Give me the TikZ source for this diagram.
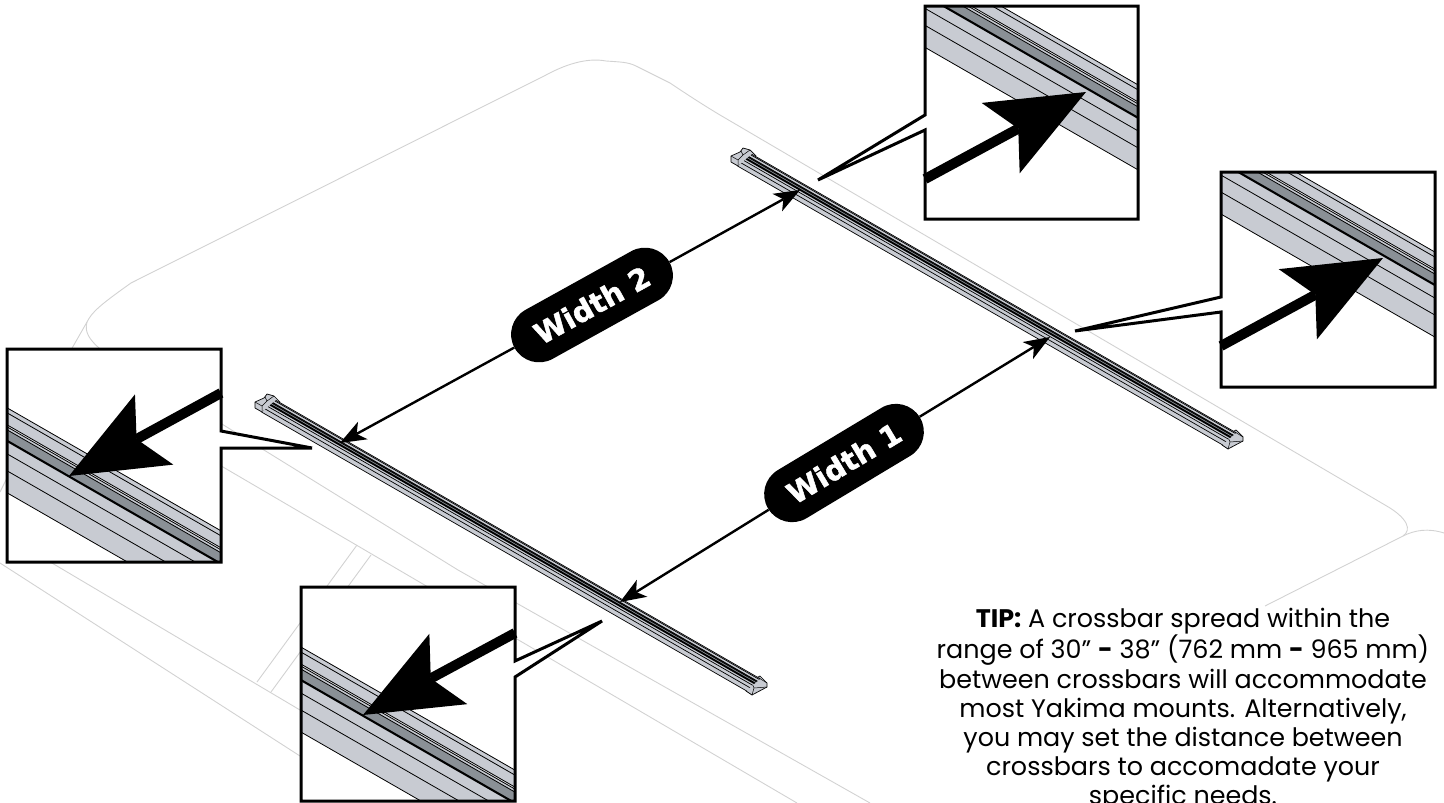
\documentclass[tikz,border=0pt]{standalone}
\usepackage{fontspec}
\setmainfont{Poppins}
\newfontfamily\pillfont[BoldFeatures={FakeBold=1.6}]{DejaVu Sans}
\usetikzlibrary{calc,arrows.meta,shapes.misc}

\definecolor{barlight}{HTML}{C8CBD2}
\definecolor{bardark}{HTML}{8A9096}
\definecolor{carlight}{HTML}{D2D2D2}

\tikzset{
    carline/.style={draw=carlight, line width=0.9},
    barline/.style={draw=black, line width=0.9},
    dimarrow/.style={line width=2.4, -{Stealth[length=26pt,width=20pt,inset=7pt,line width=0pt]}},
    widthpill/.style={shape=rounded rectangle, fill=black, text=white, minimum height=56pt,
        minimum width=177pt, inner sep=0pt, font=\pillfont\bfseries\fontsize{29}{29}\selectfont},
    zoomarrow/.style={line width=10, -{Stealth[length=97pt,width=80pt,inset=20pt,line width=0pt]}},
    zoomframe/.style={draw=black, line width=3, line join=miter}
}

% bands of a crossbar: top edge start, run in x, depth scale, line width
\newcommand{\barbands}[4]{
    \fill[barlight] (#1) -- ++(#2,.575*#2) -- ++(0,85*#3) -- ++(-#2,-.575*#2) -- cycle;
    \fill[bardark] ($(#1)+(0,22*#3)$) -- ++(#2,.575*#2) -- ++(0,11*#3) -- ++(-#2,-.575*#2) -- cycle;
    \fill[white!60!barlight] ($(#1)+(0,17*#3)$) -- ++(#2,.575*#2) -- ++(0,2*#3) -- ++(-#2,-.575*#2) -- cycle;
    \foreach \off in {0,5,17,19,22,46,63,85}
        \draw[barline, line width=#4] ($(#1)+(0,\off*#3)$) -- ++(#2,.575*#2);
    \draw[barline, line width=2.6*#4] ($(#1)+(0,33*#3)$) -- ++(#2,.575*#2);
}

% frame with wedge, clip rectangle, band start, arrow start, arrow tip
\newcommand{\zoominset}[5]{
    \path[fill=white] #1;
    \begin{scope}
        \clip #2;
        \barbands{#3}{300}{1}{0.8}
    \end{scope}
    \draw[zoomarrow] (#4) -- (#5);
    \draw[zoomframe] #1;
}

\newcommand{\crossbar}[1]{
    \begin{scope}[shift={(#1)}]
        % upper left end
        \draw[barline, line width=0.7, fill=barlight, line join=round] (738,166) -- (731,162) -- (731,156) -- (740,152)
            -- (743,148) -- (750,150) -- (756,156) -- cycle;
        \draw[barline, line width=0.5] (738,166) -- (738,160) -- (731,156) (738,160) -- (743,155) -- (741,151) (743,155) -- (750,150);
        % lower right end
        \draw[barline, line width=0.7, fill=barlight, line join=round] (1222,445) -- (1228,449) -- (1243,441)
            -- (1243,437) -- (1236,430) -- (1225,436) -- cycle;
        \draw[barline, line width=0.5] (1222,445) -- (1222,440) -- (1228,437) -- (1235,432) -- (1243,437)
            (1228,437) -- (1230,442) -- (1228,449) (1230,442) -- (1243,441);
        \begin{scope}
            \clip (759,148) -- (1244,426) -- (1215,451) -- (731,172) -- cycle;
            \barbands{735,144.6}{505}{0.235}{0.7}
        \end{scope}
    \end{scope}
}

\begin{document}
\begin{tikzpicture}[x=1pt,y=-1pt]
    \useasboundingbox (0,0) rectangle (1444,803);
    \clip (0,0) rectangle (1444,803);

    % car roof
    \draw[carline] (0,492) -- (71,350) -- (87,322) .. controls (92,312) and (100,305) .. (131,283)
        -- (546,75) .. controls (570,62) and (590,58) .. (606,61) .. controls (620,62) and (628,62) .. (636,66)
        -- (670,83) .. controls (685,93) and (700,103) .. (720,115) -- (1385,505)
        .. controls (1408,518) and (1412,530) .. (1403,536) -- (1265,606);
    \draw[carline] (1403,536) .. controls (1415,530) and (1428,528) .. (1444,533);
    \draw[carline] (87,322) .. controls (84,332) and (90,340) .. (99,348) -- (458,570) -- (870,803);
    \draw[carline] (150,425) -- (223,467) -- (797,803);
    \draw[carline] (0,563) -- (300,756);
    \draw[carline] (30,550) -- (300,710);
    \draw[carline] (357,545) -- (257,682);
    \draw[carline] (371,555) -- (271,692);

    \crossbar{-476,246}
    \crossbar{0,0}

    \node[widthpill, rotate=29] (widthtwo) at (592,305) {Width 2};
    \node[widthpill, rotate=31] (widthone) at (844,463) {Width 1};
    \coordinate (twoleft) at (340,443);
    \coordinate (tworight) at (800,190);
    \coordinate (oneleft) at (620,602);
    \coordinate (oneright) at (1050,337);
    \draw[dimarrow] (widthtwo) -- (twoleft);
    \draw[dimarrow] (widthtwo) -- (tworight);
    \draw[dimarrow] (widthone) -- (oneleft);
    \draw[dimarrow] (widthone) -- (oneright);

    \zoominset{(925,6) -- (1138,6) -- (1138,219) -- (925,219) -- (925,130) -- (818,180) -- (925,115) -- cycle}
        {(925,6) rectangle (1138,219)}{900,-52}{925,179}{1086,92}
    \zoominset{(1221,172) -- (1435,172) -- (1435,387) -- (1221,387) -- (1221,312) -- (1075,331) -- (1221,297) -- cycle}
        {(1221,172) rectangle (1435,387)}{1200,117}{1221,346}{1383,258}
    \zoominset{(7,349) -- (221,349) -- (221,431) -- (312,448) -- (221,448) -- (221,562) -- (7,562) -- cycle}
        {(7,349) rectangle (221,562)}{-10,398}{221,393}{69,476}
    \zoominset{(301,587) -- (515,587) -- (515,661) -- (602,621) -- (515,677) -- (515,801) -- (301,801) -- cycle}
        {(301,587) rectangle (515,801)}{280,635}{515,633}{363,715}

    \node[inner sep=0pt, align=center, anchor=north, font=\fontsize{25.4}{29.2}\selectfont] (tip) at (1183,608)
        {\textbf{TIP:} A crossbar spread within the\\
         range of 30" \textbf{-} 38" (762 mm \textbf{-} 965 mm)\\
         between crossbars will accommodate\\
         most Yakima mounts. Alternatively,\\
         you may set the distance between\\
         crossbars to accomadate your\\
         specific needs.};
\end{tikzpicture}
\end{document}
